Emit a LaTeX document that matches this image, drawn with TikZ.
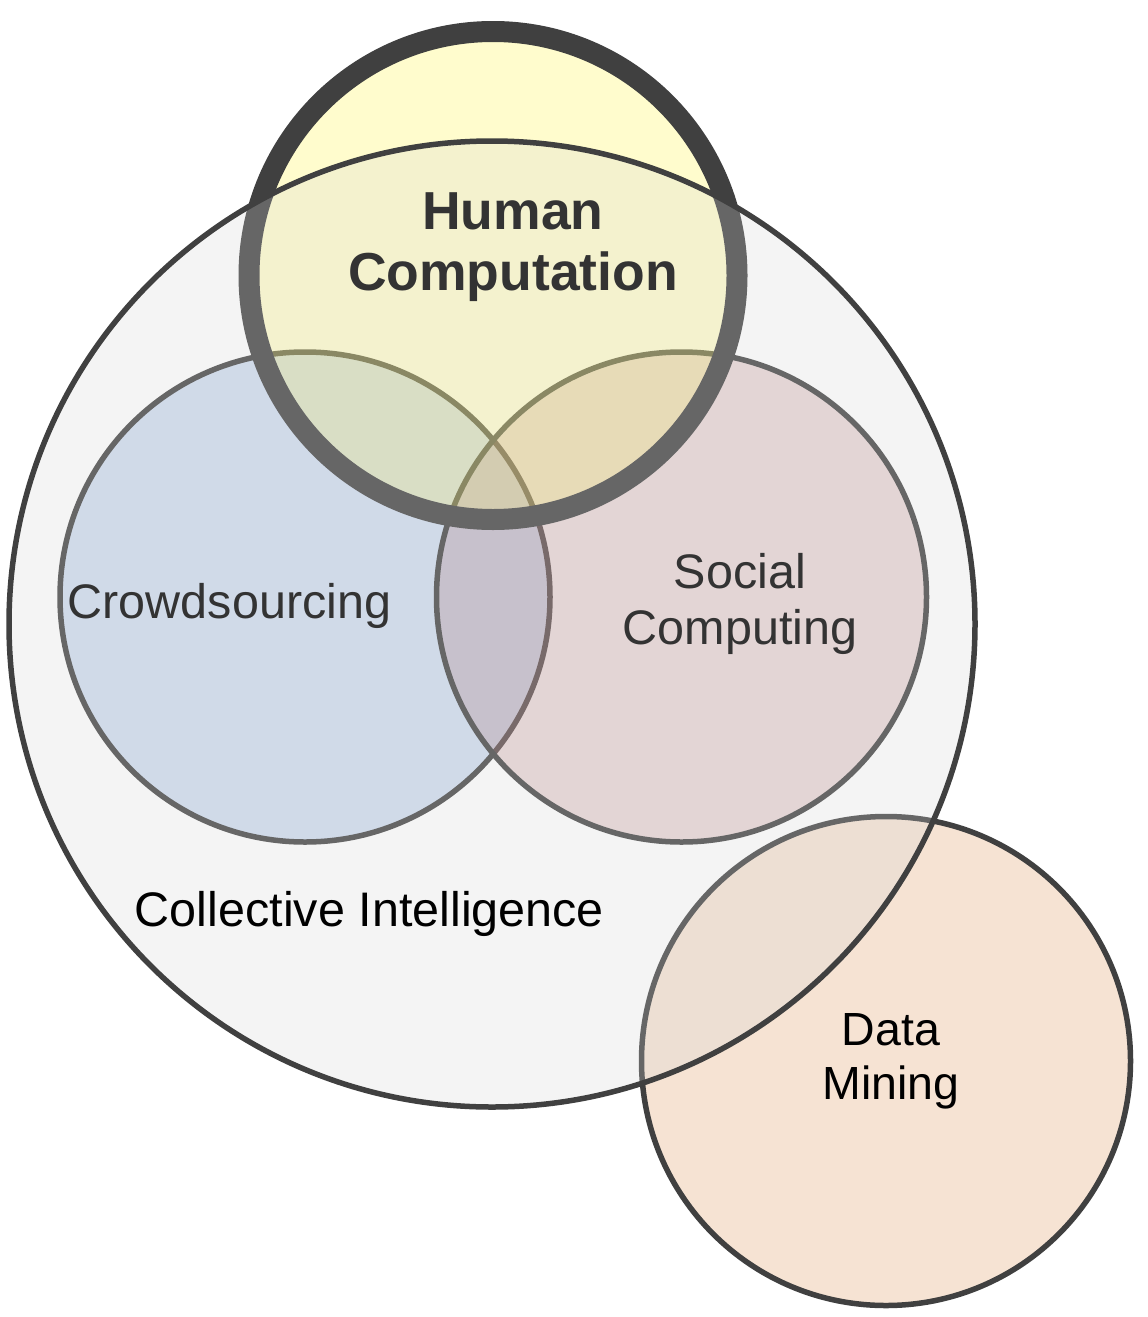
\documentclass[tikz,border=0pt]{standalone}
\usepackage{fontspec}
\setmainfont{Liberation Sans}
\definecolor{edge}{HTML}{404040}
\definecolor{crowdc}{RGB}{63,115,191}
\definecolor{socialc}{RGB}{164,88,88}
\definecolor{humanc}{RGB}{255,245,60}
\definecolor{datac}{RGB}{219,143,79}
\definecolor{cic}{RGB}{212,212,212}
\definecolor{txt}{HTML}{333333}
\begin{document}
\begin{tikzpicture}[x=1pt,y=-1pt,
  setc/.style={circle, inner sep=0pt, outer sep=0pt, draw=edge, line width=5.5pt, fill opacity=0.25, draw opacity=1},
  lbl/.style={inner sep=0pt, align=center, font=\fontsize{48.5}{56}\selectfont}]
\useasboundingbox (0,0) rectangle (1148,1317);
\node[setc, fill=crowdc, minimum size=490pt] (crowd) at (305,597) {};
\node[setc, fill=socialc, minimum size=490pt] (social) at (681.5,597) {};
\node[setc, fill=humanc, fill opacity=0.26, line width=21pt, minimum size=488pt] (human) at (493,275.5) {};
\node[setc, fill=datac, minimum size=489pt] (data) at (886,1061) {};
\node[setc, fill=cic, fill opacity=0.26, minimum size=966pt] (ci) at (492,624) {};
\node[lbl, text=txt, font=\bfseries\fontsize{53.5}{61}\selectfont] (humanlbl) at (513,247) {Human\\Computation};
\node[lbl, text=txt, anchor=base] (crowdlbl) at (229.5,618) {Crowdsourcing};
\node[lbl, text=txt] (sociallbl) at (740,604) {Social\\Computing};
\node[lbl, text=black, anchor=base] (cilbl) at (369.5,926) {Collective Intelligence};
\node[lbl, text=black, font=\fontsize{46.5}{54}\selectfont] (datalbl) at (891,1061) {Data\\Mining};
\end{tikzpicture}
\end{document}
